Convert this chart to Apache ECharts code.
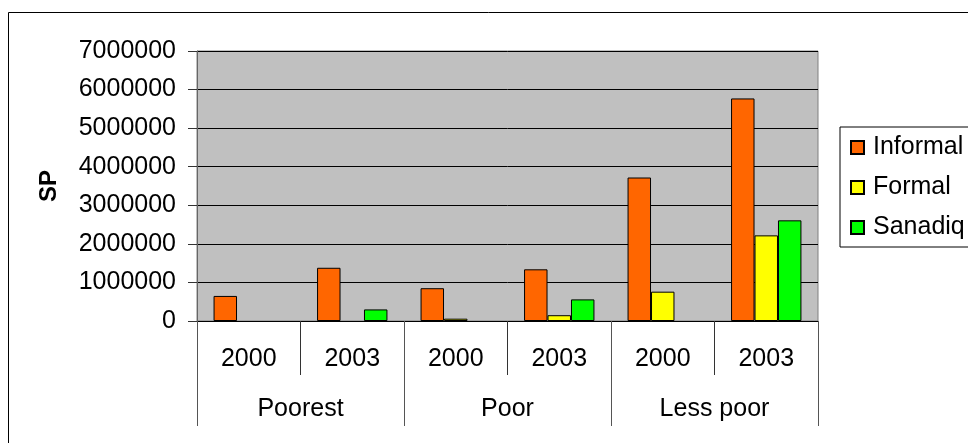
<!DOCTYPE html>
<html>
<head>
<meta charset="utf-8">
<script src="https://cdn.jsdelivr.net/npm/echarts@6/dist/echarts.min.js"></script>
<style>html,body{margin:0;padding:0;background:#fff}#c{width:968px;height:443px}</style>
</head>
<body>
<div id="c"></div>
<script>
var years = ['2000', '2003', '2000', '2003', '2000', '2003'];
var groups = ['Poorest', 'Poor', 'Less poor'];
var informal = [650000, 1380000, 850000, 1340000, 3720000, 5770000];
var formal = [null, null, 60000, 150000, 760000, 2220000];
var sanadiq = [null, 300000, null, 560000, null, 2610000];
var yTicks = [0, 1000000, 2000000, 3000000, 4000000, 5000000, 6000000, 7000000];

var FONT = 'Liberation Sans, Arial, sans-serif';
var FS = 25;
var chart = echarts.init(document.getElementById('c'));
function bar(name, data, color) {
  return {
    name: name, type: 'bar', data: data, xAxisIndex: 0,
    barGap: '0%', barCategoryGap: '32%',
    itemStyle: { color: color, borderColor: '#000', borderWidth: 1 }
  };
}
chart.setOption({
  animation: false,
  textStyle: { fontFamily: FONT },
  graphic: [{
    type: 'rect', shape: { x: 8.5, y: 12.5, width: 1000, height: 500 },
    style: { fill: 'none', stroke: '#000', lineWidth: 1 }, z: 100
  }],
  grid: { left: 197, right: 150, top: 51, bottom: 122, backgroundColor: '#c0c0c0', show: true, borderColor: '#808080', borderWidth: 1 },
  legend: {
    orient: 'vertical', left: 840, top: 127, padding: [8, 10, 7, 10],
    borderColor: '#000', borderWidth: 1, backgroundColor: '#fff',
    itemWidth: 13, itemHeight: 13, itemGap: 15, icon: 'rect',
    textStyle: { fontFamily: FONT, fontSize: FS, color: '#000', padding: [0, 0, 0, 4] },
    data: ['Informal', 'Formal', 'Sanadiq']
  },
  xAxis: [{
    type: 'category', data: years, position: 'bottom',
    axisLine: { lineStyle: { color: '#000', width: 1 } },
    axisTick: { show: true, interval: 0, length: 54, lineStyle: { color: '#333' } },
    axisLabel: { interval: 0, margin: 26, fontSize: FS, color: '#000', fontFamily: FONT }
  }, {
    type: 'category', data: groups, position: 'bottom',
    axisLine: { show: false },
    axisTick: { show: true, interval: 0, length: 105, lineStyle: { color: '#555' } },
    axisLabel: { interval: 0, margin: 76, fontSize: FS, color: '#000', fontFamily: FONT }
  }],
  yAxis: {
    type: 'value', min: yTicks[0], max: yTicks[yTicks.length - 1], interval: 1000000,
    name: 'SP', nameLocation: 'middle', nameRotate: 90, nameGap: 136,
    nameTextStyle: { fontFamily: FONT, fontSize: 24, fontWeight: 'bold', color: '#000' },
    axisLine: { show: true, lineStyle: { color: '#666' } },
    axisTick: { show: true, length: 9, lineStyle: { color: '#333' } },
    axisLabel: { margin: 21, fontSize: FS, color: '#000', fontFamily: FONT, formatter: function (v) { return String(v); } },
    splitLine: { lineStyle: { color: '#000', width: 1 } }
  },
  series: [
    bar('Informal', informal, '#ff6600'),
    bar('Formal', formal, '#ffff00'),
    bar('Sanadiq', sanadiq, '#00ff00')
  ]
});
</script>
</body>
</html>
